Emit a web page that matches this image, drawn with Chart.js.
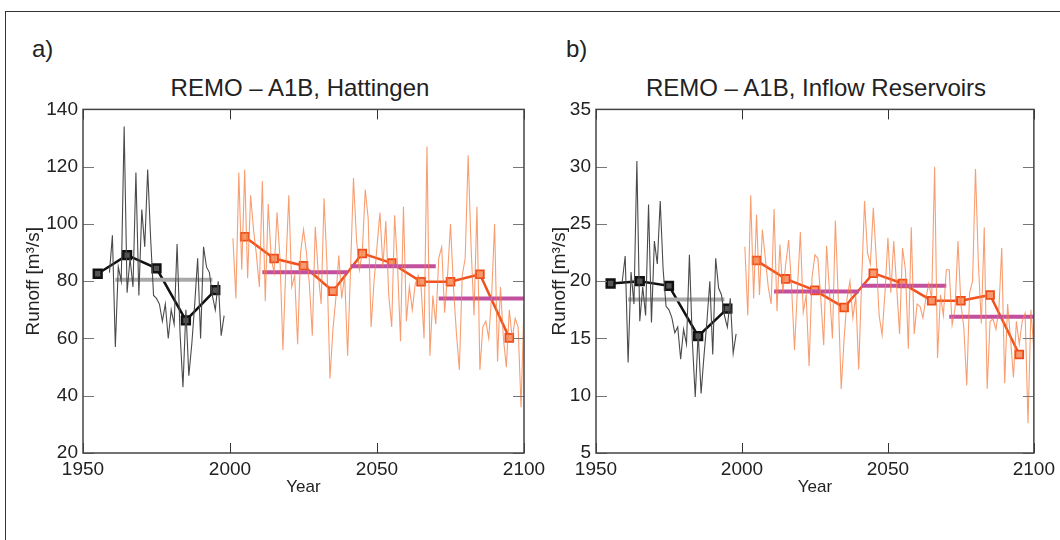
<!DOCTYPE html>
<html>
<head>
<meta charset="utf-8">
<script src="https://cdn.jsdelivr.net/npm/chart.js@4.4.1/dist/chart.umd.min.js"></script>
<style>
  html, body { margin: 0; padding: 0; background: #fff; }
  body { width: 1060px; height: 540px; position: relative; overflow: hidden; font-family: "Liberation Sans", Arial, sans-serif; color: #222; }
  .frame { position: absolute; left: 5px; top: 11px; width: 1100px; height: 600px; border-left: 1px solid #333; border-top: 1px solid #333; }
  .lbl { position: absolute; font-size: 24px; line-height: 24px; }
  .ttl { position: absolute; font-size: 24px; line-height: 24px; text-align: center; white-space: nowrap; }
  canvas { position: absolute; }
</style>
</head>
<body>
<div class="frame"></div>
<div class="lbl" style="left:32px;top:37px">a)</div>
<div class="lbl" style="left:566px;top:37px">b)</div>
<div class="ttl" style="left:100px;width:400px;top:76px">REMO – A1B, Hattingen</div>
<div class="ttl" style="left:616px;width:400px;top:76px">REMO – A1B, Inflow Reservoirs</div>
<canvas id="chartA"></canvas>
<canvas id="chartB"></canvas>
<script>
// observed annual runoff (black), 1959-1998
const obsYears = Array.from({ length: 40 }, (_, i) => 1959 + i);
const obsA = [83, 96, 57, 85, 80, 134, 76, 88, 78, 118, 75, 105, 92, 119, 95, 75, 74, 72, 66, 72,
  60, 70, 65, 93, 62, 43, 70, 47, 58, 72, 88, 60, 92, 85, 83, 75, 70, 80, 61, 68];
const obsB = [20.0, 22.2, 12.9, 20.8, 18.0, 30.5, 16.5, 19.5, 17.0, 26.7, 16.4, 23.5, 21.5, 27.0, 21.0, 17.8, 17.5, 16.8, 15.5, 16.0,
  13.2, 15.8, 14.5, 22.3, 14.8, 9.9, 15.5, 10.2, 13.5, 16.5, 20.0, 13.6, 22.0, 19.4, 18.8, 17.0, 16.0, 18.5, 13.7, 15.4];

// REMO A1B annual runoff (orange), 2001-2100
const simYears = Array.from({ length: 100 }, (_, i) => 2001 + i);
const simA = [95, 74, 118, 84, 119, 81, 110, 98, 89, 78,
  115, 73, 107, 88, 83, 104, 88, 56, 85, 110,
  78, 82, 58, 90, 98, 90, 79, 61, 99, 83,
  72, 109, 85, 46, 63, 74, 89, 74, 82, 54,
  84, 116, 95, 84, 90, 112, 102, 64, 80, 92,
  104, 85, 101, 75, 64, 103, 85, 59, 106, 66,
  78, 70, 79, 82, 78, 60, 127, 54, 75, 65,
  88, 92, 69, 82, 100, 78, 62, 49, 82, 88,
  124, 92, 68, 106, 49, 64, 66, 60, 75, 100,
  52, 78, 60, 50, 70, 60, 67, 64, 36, 72];
const simB = [23.0, 17.0, 27.5, 18.5, 25.8, 18.8, 24.5, 22.0, 19.5, 18.0,
  26.3, 17.4, 23.2, 19.0, 21.5, 23.6, 19.5, 14.0, 19.3, 24.3,
  17.3, 18.8, 12.6, 20.3, 22.3, 22.0, 18.5, 14.4, 23.1, 19.0,
  15.0, 25.3, 18.5, 10.6, 15.0, 18.5, 20.0, 16.8, 18.7, 12.3,
  20.0, 27.0, 22.5, 21.5, 26.4, 22.0, 17.0, 15.3, 19.0, 23.8,
  19.0, 23.5, 19.5, 15.4, 22.9, 21.0, 14.1, 24.7, 15.4, 18.0,
  17.8, 16.8, 18.5, 19.8, 18.5, 30.0, 13.3, 18.8, 17.0, 21.0,
  21.0, 16.2, 17.6, 23.5, 18.0, 16.0, 10.9, 19.0, 20.0, 29.8,
  21.5, 16.3, 24.7, 10.6, 16.5, 16.7, 15.8, 17.5, 22.9, 11.1,
  18.0, 15.0, 11.6, 16.5, 14.5, 16.5, 17.2, 7.6, 17.5, 14.0];

// decadal means
const obsDecYears = [1955, 1965, 1975, 1985, 1995];
const obsDecA = [82.6, 89.1, 84.5, 66.3, 76.9];
const obsDecB = [19.8, 20.0, 19.6, 15.2, 17.6];
const simDecYears = [2005, 2015, 2025, 2035, 2045, 2055, 2065, 2075, 2085, 2095];
const simDecA = [95.5, 87.9, 85.4, 76.5, 89.7, 86.3, 79.8, 79.8, 82.4, 60.2];
const simDecB = [21.8, 20.2, 19.2, 17.7, 20.7, 19.8, 18.3, 18.3, 18.8, 13.6];

// 30-year means
const refPeriod = [1961, 1994];
const refMeanA = 80.5;
const refMeanB = 18.4;
const futStart = [2011, 2041, 2071];
const futEnd = [2040, 2070, 2100];
const futMeanA = [83.1, 85.2, 74.0];
const futMeanB = [19.1, 19.6, 16.9];

const FONT = '"Liberation Sans", Arial, sans-serif';

const toXY = (xs, ys) => xs.map((x, i) => ({ x, y: ys[i] }));

function periodLines(starts, ends, vals) {
  const pts = [];
  starts.forEach((s, i) => {
    pts.push({ x: s, y: vals[i] }, { x: ends[i], y: vals[i] });
    if (i < starts.length - 1) pts.push({ x: (ends[i] + starts[i + 1]) / 2, y: null });
  });
  return pts;
}

// inner tick marks + plot box, like the original figure
const innerTicks = {
  id: 'innerTicks',
  afterDraw(chart) {
    const { ctx, chartArea: a, scales: { x, y } } = chart;
    const seg = (x1, y1, x2, y2) => { ctx.beginPath(); ctx.moveTo(x1, y1); ctx.lineTo(x2, y2); ctx.stroke(); };
    ctx.save();
    ctx.strokeStyle = '#777';
    ctx.lineWidth = 1;
    y.ticks.forEach(t => {
      const py = Math.round(y.getPixelForValue(t.value)) + 0.5;
      seg(a.left, py, a.left + 11, py);
      seg(a.right - 11, py, a.right, py);
    });
    ctx.strokeStyle = '#333';
    x.ticks.forEach(t => {
      const px = Math.round(x.getPixelForValue(t.value)) + 0.5;
      seg(px, a.top, px, a.top + 10);
      seg(px, a.bottom, px, a.bottom - 10);
    });
    ctx.strokeStyle = '#444';
    ctx.lineWidth = 1.5;
    ctx.strokeRect(a.left, a.top, a.right - a.left, a.bottom - a.top);
    ctx.restore();
  }
};

function makePanel(id, opt) {
  const cv = document.getElementById(id);
  cv.style.left = opt.left + 'px';
  cv.style.top = '93px';
  cv.width = opt.width;
  cv.height = 407;
  cv.style.width = opt.width + 'px';
  cv.style.height = '407px';

  new Chart(cv, {
    type: 'line',
    data: {
      datasets: [
        { data: toXY(obsYears, opt.obs), borderColor: '#4a4a4a', borderWidth: 1.1, pointRadius: 0, tension: 0 },
        { data: toXY(simYears, opt.sim), borderColor: 'rgba(245,125,65,0.75)', borderWidth: 1.1, pointRadius: 0, tension: 0 },
        { data: [{ x: refPeriod[0], y: opt.refMean }, { x: refPeriod[1], y: opt.refMean }], borderColor: '#a9a9a9', borderWidth: 4, pointRadius: 0 },
        { data: periodLines(futStart, futEnd, opt.futMean), borderColor: '#c2509f', borderWidth: 4, pointRadius: 0, spanGaps: false },
        { data: toXY(obsDecYears, opt.obsDec), borderColor: '#111', borderWidth: 2.5,
          pointStyle: 'rect', pointRadius: 5.5, pointBorderWidth: 2.5, pointBackgroundColor: '#555', pointBorderColor: '#111' },
        { data: toXY(simDecYears, opt.simDec), borderColor: '#f0521f', borderWidth: 2.5,
          pointStyle: 'rect', pointRadius: 5.5, pointBorderWidth: 1.8, pointBackgroundColor: '#f79a70', pointBorderColor: '#ee4b18' }
      ]
    },
    options: {
      responsive: false,
      animation: false,
      events: [],
      layout: { padding: { top: 8, right: opt.width - opt.plotRight, left: 0, bottom: 0 } },
      plugins: { legend: { display: false }, tooltip: { enabled: false } },
      scales: {
        x: {
          type: 'linear', min: 1950, max: 2100,
          afterFit: s => { s.height = 47; },
          grid: { display: false, drawTicks: false },
          border: { display: false },
          ticks: { stepSize: 50, padding: 5, color: '#222', font: { family: FONT, size: 19 }, maxRotation: 0,
            callback: v => String(v) },
          title: { display: true, text: 'Year', color: '#222', font: { family: FONT, size: 17 }, padding: { top: 0, bottom: 2 } }
        },
        y: {
          min: opt.yMin, max: opt.yMax,
          afterFit: s => { s.width = opt.plotLeft; },
          grid: { display: false, drawTicks: false },
          border: { display: false },
          ticks: { stepSize: opt.yStep, padding: 5, color: '#222', font: { family: FONT, size: 19 },
            callback: v => String(v) },
          title: { display: true, text: 'Runoff [m³/s]', color: '#222', font: { family: FONT, size: 19 }, padding: { top: opt.titlePad, bottom: 0 } }
        }
      }
    },
    plugins: [innerTicks]
  });
}

makePanel('chartA', {
  left: 0, width: 560, plotLeft: 83, plotRight: 524,
  yMin: 20, yMax: 140, yStep: 20, titlePad: 22,
  obs: obsA, sim: simA, obsDec: obsDecA, simDec: simDecA, refMean: refMeanA, futMean: futMeanA
});

makePanel('chartB', {
  left: 540, width: 520, plotLeft: 56, plotRight: 497,
  yMin: 5, yMax: 35, yStep: 5, titlePad: 8,
  obs: obsB, sim: simB, obsDec: obsDecB, simDec: simDecB, refMean: refMeanB, futMean: futMeanB
});
</script>
</body>
</html>
